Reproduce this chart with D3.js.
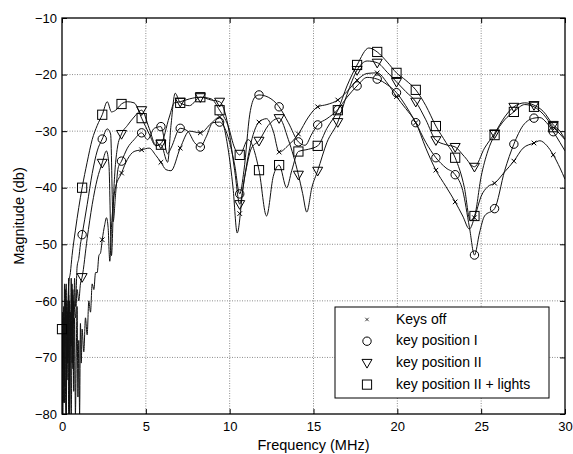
<!DOCTYPE html>
<html>
<head>
<meta charset="utf-8">
<script src="https://cdn.jsdelivr.net/npm/d3@7"></script>
<style>
  body { margin: 0; background: #fff; }
  #container { width: 573px; height: 454px; }
  text { font-family: "Liberation Sans", Arial, sans-serif; font-size: 12px; fill: #000; }
</style>
</head>
<body>
<div id="container"></div>
<script>
// frequencies (MHz) where the markers sit on every curve
var markerFreqs = [0, 1.2, 2.4, 3.55, 4.75, 5.9, 7.05, 8.25, 9.4, 10.6, 11.75, 12.95, 14.1,
  15.25, 16.45, 17.6, 18.8, 19.95, 21.1, 22.3, 23.45, 24.6, 25.8, 26.95, 28.15, 29.3];

var xTicks = [0, 5, 10, 15, 20, 25, 30];
var yTicks = [-80, -70, -60, -50, -40, -30, -20, -10];

// [frequency, magnitude dB]
var keysOff = [[0,-80],[0.05,-62],[0.1,-78],[0.15,-57],[0.2,-74],[0.25,-80],[0.3,-60],[0.35,-71],
  [0.4,-56],[0.45,-79],[0.5,-64],[0.55,-80],[0.6,-66],[0.65,-58],[0.7,-76],[0.75,-63],[0.8,-80],
  [0.85,-70],[0.9,-61],[0.95,-77],[1.0,-67],[1.05,-80],[1.1,-64],[1.15,-71],[1.2,-65],[1.3,-69],
  [1.4,-63],[1.5,-66],[1.6,-60],[1.7,-62],[1.8,-57],[1.9,-58],[2.0,-55],[2.1,-55],[2.2,-52],
  [2.3,-51.5],[2.4,-49.2],[2.55,-46.5],[2.65,-45.3],[2.75,-47],[2.85,-53],[2.95,-47],[3.15,-40.5],
  [3.55,-37.4],[3.9,-35],[4.3,-33.6],[4.75,-33.3],[5.2,-33],[5.6,-34.3],[5.9,-35.5],[6.2,-36.8],
  [6.5,-37],[7.05,-33],[7.6,-30],[8.25,-30.3],[8.9,-28.6],[9.4,-27.5],[9.9,-33],[10.2,-40],
  [10.45,-48],[10.8,-40],[11.2,-33],[11.75,-28.4],[12.2,-27.8],[12.6,-30],[12.95,-33.7],
  [13.5,-32.5],[14.1,-30.5],[14.7,-27.5],[15.25,-25.7],[15.8,-25.3],[16.45,-24.5],[17.0,-23],
  [17.6,-21],[18.2,-19.8],[18.8,-19.7],[19.4,-21.5],[19.95,-23.9],[20.5,-26],[21.1,-28.5],
  [21.7,-33],[22.3,-36.9],[22.9,-39.8],[23.45,-42.5],[23.9,-45],[24.3,-47.3],[24.6,-45.3],
  [25.0,-41.5],[25.4,-39.8],[25.8,-39.2],[26.4,-37.2],[26.95,-35.3],[27.5,-33],[28.15,-32.1],
  [28.5,-31.7],[28.9,-32.5],[29.3,-34.2],[29.7,-36.5],[30,-38.5]];

var keyPos1 = [[0,-66],[0.05,-72],[0.1,-61],[0.15,-78],[0.2,-64],[0.25,-57],[0.3,-74],[0.35,-62],
  [0.4,-80],[0.45,-60],[0.5,-67],[0.55,-56],[0.6,-71],[0.65,-59],[0.7,-64],[0.75,-56],[0.8,-61],
  [0.9,-54],[1.0,-52.5],[1.1,-50],[1.2,-48.3],[1.5,-43],[1.8,-37.5],[2.1,-33.5],[2.4,-31.4],
  [2.7,-29.6],[2.9,-30.5],[3.05,-46],[3.2,-41],[3.35,-36.5],[3.55,-35.3],[3.9,-33],[4.3,-31.5],
  [4.75,-30.3],[5.1,-31.5],[5.5,-29.5],[5.9,-29.2],[6.3,-34],[6.5,-33],[7.05,-29.5],[7.5,-30],
  [7.9,-32],[8.25,-32.8],[8.6,-31],[9.0,-28.5],[9.4,-28.4],[9.9,-31],[10.3,-36],[10.6,-41.1],
  [10.85,-37],[11.2,-27],[11.5,-24],[11.75,-23.6],[12.3,-24],[12.95,-25.7],[13.5,-28.5],
  [14.1,-31.9],[14.5,-32.5],[14.9,-30.5],[15.25,-28.9],[15.8,-27.8],[16.45,-26.2],[17.0,-24],
  [17.6,-22],[18.2,-20.5],[18.8,-20.8],[19.4,-21.8],[19.95,-23.2],[20.5,-25.5],[21.1,-28.5],
  [21.7,-32],[22.3,-34.7],[22.9,-36.5],[23.45,-37.7],[23.9,-40.5],[24.3,-47],[24.6,-51.9],
  [24.9,-48],[25.2,-45],[25.8,-43.7],[26.4,-37],[26.95,-32.3],[27.5,-29],[28.15,-27.7],
  [28.5,-27.6],[28.9,-28.5],[29.3,-30.1],[29.7,-32],[30,-33.5]];

var keyPos2 = [[0,-66.5],[0.05,-80],[0.1,-63],[0.15,-75],[0.2,-58],[0.25,-80],[0.3,-64],[0.35,-70],
  [0.4,-59],[0.45,-80],[0.5,-62],[0.55,-68],[0.6,-57],[0.65,-72],[0.7,-60],[0.8,-63],[0.9,-58],
  [1.0,-60],[1.1,-57],[1.2,-55.8],[1.5,-49],[1.8,-43],[2.1,-38.5],[2.4,-35.6],[2.65,-33.5],
  [2.8,-36],[2.95,-52],[3.1,-40],[3.3,-33],[3.55,-30.5],[3.9,-29],[4.3,-27.5],[4.75,-26.3],
  [5.2,-29.5],[5.6,-32.5],[5.9,-32.2],[6.4,-27.5],[6.7,-25],[7.05,-24.8],[7.6,-24.3],[8.25,-24],
  [8.9,-24.5],[9.4,-24.8],[9.9,-29],[10.3,-37],[10.6,-42.9],[10.9,-38],[11.3,-33],[11.75,-31.7],
  [12.3,-29],[12.95,-27.7],[13.5,-31.5],[14.1,-37.7],[14.35,-41],[14.6,-44.3],[14.9,-40],
  [15.25,-37],[15.8,-32],[16.45,-28.4],[17.0,-23.5],[17.6,-19.2],[18.2,-17.6],[18.8,-17.9],
  [19.4,-19.6],[19.95,-21.3],[20.5,-23],[21.1,-24.8],[21.7,-28],[22.3,-31.6],[22.9,-32.4],
  [23.45,-32.8],[24.0,-34.5],[24.6,-36.3],[25.2,-33],[25.8,-30.4],[26.4,-27.5],[26.95,-25.7],
  [27.6,-25],[28.15,-25.4],[28.7,-26.5],[29.3,-28.9],[29.7,-30],[30,-31.5]];

var keyPos2Lights = [[0,-65],[0.05,-70],[0.1,-63],[0.15,-68],[0.2,-61],[0.3,-64],[0.4,-57],
  [0.5,-55],[0.6,-52],[0.8,-47.5],[1.0,-43.5],[1.2,-40],[1.5,-35.5],[1.8,-31.5],[2.1,-29],
  [2.4,-27.1],[2.7,-24.8],[2.95,-26.6],[3.2,-26.3],[3.55,-25.2],[3.9,-24.8],[4.3,-25],[4.75,-27.7],
  [5.2,-30.5],[5.6,-32.6],[5.9,-32.4],[6.3,-35.5],[6.5,-29],[6.75,-23.3],[7.05,-25],[7.6,-25.5],
  [8.25,-24],[8.9,-24.3],[9.4,-26.3],[9.9,-29],[10.3,-33],[10.6,-34.2],[11.1,-31.5],[11.75,-36.9],
  [12.2,-45],[12.6,-38],[12.95,-36],[13.4,-40],[13.7,-37],[14.1,-33.6],[14.7,-33.2],[15.25,-32.6],
  [15.8,-29.5],[16.45,-26.3],[17.0,-22],[17.6,-18.3],[18.3,-15.3],[18.8,-16],[19.4,-17.8],
  [19.95,-19.7],[20.5,-21],[21.1,-22.7],[21.7,-25.5],[22.3,-29.1],[22.9,-32],[23.45,-34.7],
  [24.0,-40],[24.35,-45.8],[24.6,-45],[25.0,-38],[25.4,-33.5],[25.8,-30.7],[26.4,-28],
  [26.95,-26.6],[27.6,-25.3],[28.15,-25.7],[28.7,-27],[29.3,-29.3],[29.7,-30.5],[30,-31.5]];

var seriesNames = ["Keys off", "key position I", "key position II", "key position II + lights"];
var seriesData = [keysOff, keyPos1, keyPos2, keyPos2Lights];
var seriesMarkers = ["cross", "circle", "triangle", "square"];
var seriesFirstMarker = [2, 1, 1, 0]; // first marker index drawn

var drawChart = function () {
  var target = d3.select("#container");
  var W = 573, H = 454;
  var margin = { top: 18, right: 8, bottom: 40, left: 62 };
  var width = W - margin.left - margin.right;
  var height = H - margin.top - margin.bottom;
  var font = "'Liberation Sans', Arial, sans-serif";

  var svg = target.append("svg").attr("width", W).attr("height", H);
  var main = svg.append("g")
    .attr("transform", "translate(" + margin.left + "," + margin.top + ")");

  var x = d3.scaleLinear().domain([0, 30]).range([0, width]);
  var y = d3.scaleLinear().domain([-80, -10]).range([height, 0]);

  svg.append("defs").append("clipPath").attr("id", "plotclip")
    .append("rect").attr("width", width).attr("height", height);

  // grid
  main.append("g").selectAll("line.vgrid")
    .data(xTicks.slice(1, -1)).enter().append("line")
    .attr("x1", function (d) { return x(d); }).attr("x2", function (d) { return x(d); })
    .attr("y1", 0).attr("y2", height)
    .style("stroke", "#8c8c8c").style("stroke-dasharray", "1,1.5");
  main.append("g").selectAll("line.hgrid")
    .data(yTicks.slice(1, -1)).enter().append("line")
    .attr("y1", function (d) { return y(d); }).attr("y2", function (d) { return y(d); })
    .attr("x1", 0).attr("x2", width)
    .style("stroke", "#8c8c8c").style("stroke-dasharray", "1,1.5");

  // axes (ticks inside, mirrored on top/right)
  var tick = 5;
  var ax = function (g) {
    g.select(".domain").remove();
    g.selectAll(".tick line").style("stroke", "#000");
    g.selectAll("text").style("font-size", "13px").style("font-family", font);
  };
  main.append("g").attr("transform", "translate(0," + height + ")")
    .call(d3.axisBottom(x).tickValues(xTicks).tickSize(-tick).tickPadding(8)).call(ax);
  main.append("g")
    .call(d3.axisLeft(y).tickValues(yTicks).tickSize(-tick).tickPadding(5)).call(ax);
  main.append("g")
    .call(d3.axisTop(x).tickValues(xTicks).tickSize(-tick).tickFormat("")).call(ax);
  main.append("g").attr("transform", "translate(" + width + ",0)")
    .call(d3.axisRight(y).tickValues(yTicks).tickSize(-tick).tickFormat("")).call(ax);

  // curves
  var line = d3.line()
    .x(function (d) { return x(d[0]); })
    .y(function (d) { return y(d[1]); })
    .curve(d3.curveMonotoneX);

  var curves = main.append("g").attr("clip-path", "url(#plotclip)");
  curves.selectAll("path.curve").data(seriesData).enter().append("path")
    .attr("class", "curve")
    .attr("d", line)
    .style("fill", "none").style("stroke", "#111").style("stroke-width", 1);

  var valueAt = function (data, f) {
    for (var i = 1; i < data.length; i++) {
      if (data[i][0] >= f) {
        var a = data[i - 1], b = data[i];
        var t = (f - a[0]) / (b[0] - a[0]);
        return a[1] + t * (b[1] - a[1]);
      }
    }
    return data[data.length - 1][1];
  };

  var symbol = function (g, kind) {
    g.style("fill", "none").style("stroke", "#000").style("stroke-width", 1);
    if (kind === "cross") {
      g.append("path").attr("d", "M-2.3,-2.3L2.3,2.3M-2.3,2.3L2.3,-2.3");
    } else if (kind === "circle") {
      g.append("circle").attr("r", 4.2);
    } else if (kind === "triangle") {
      g.append("path").attr("d", "M-5,-3.5L5,-3.5L0,5.2Z");
    } else {
      g.append("rect").attr("x", -4.6).attr("y", -4.6).attr("width", 9.2).attr("height", 9.2);
    }
  };

  var markers = main.append("g");
  seriesData.forEach(function (data, si) {
    markerFreqs.slice(seriesFirstMarker[si]).forEach(function (f) {
      var v = valueAt(data, f);
      var g = markers.append("g")
        .attr("transform", "translate(" + x(f) + "," + y(v) + ")");
      symbol(g, seriesMarkers[si]);
    });
  });

  // frame
  main.append("rect").attr("width", width).attr("height", height)
    .style("fill", "none").style("stroke", "#000").style("stroke-width", 1.3);

  // axis labels
  svg.append("text")
    .attr("x", margin.left + width / 2).attr("y", 450)
    .style("text-anchor", "middle").style("font-size", "14.5px")
    .text("Frequency (MHz)");
  svg.append("text")
    .attr("transform", "translate(24," + (margin.top + height / 2) + ") rotate(-90)")
    .style("text-anchor", "middle").style("font-size", "14.5px")
    .text("Magnitude (db)");

  // legend
  var legend = svg.append("g").attr("transform", "translate(335,307)");
  legend.append("rect").attr("width", 214).attr("height", 91)
    .style("fill", "#fff").style("stroke", "#000").style("stroke-width", 1);
  seriesNames.forEach(function (name, i) {
    var row = legend.append("g").attr("transform", "translate(0," + (11.5 + i * 21.7) + ")");
    var m = row.append("g").attr("transform", "translate(32,1)");
    symbol(m, seriesMarkers[i]);
    if (seriesMarkers[i] === "cross") m.attr("transform", "translate(32,1) scale(0.75)");
    row.append("text").attr("x", 61).attr("y", 5).style("font-size", "14px").text(name);
  });
};

drawChart();
</script>
</body>
</html>
